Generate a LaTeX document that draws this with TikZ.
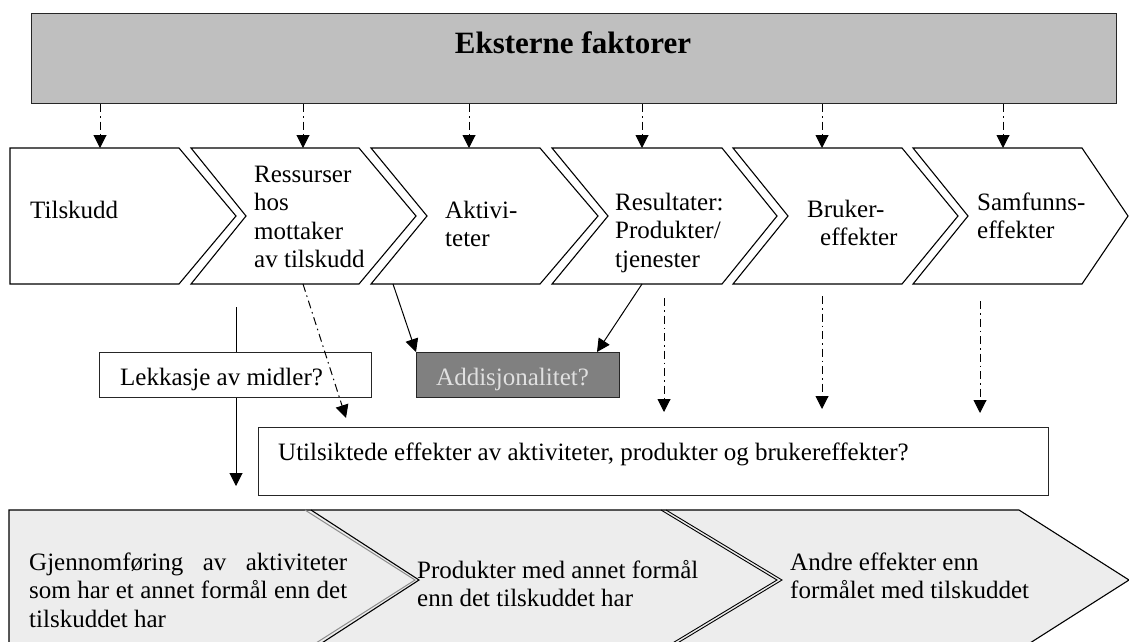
\documentclass[tikz,border=0pt]{standalone}
\usepackage{fontspec}
\setmainfont{Liberation Serif}
\usetikzlibrary{arrows.meta}
\newcommand{\mylines}[1]{\begin{tabular}[t]{@{}l@{}}#1\end{tabular}}
\begin{document}
\begin{tikzpicture}[x=1pt,y=-1pt,
  boxst/.style={draw=black!85, line width=1.2pt, inner sep=0pt, anchor=north west},
  chev/.style={draw=black, line width=1.1pt, fill=white, line join=miter},
  txt/.style={inner sep=0pt, anchor=base west, font=\fontsize{25}{28.5}\selectfont},
  arr/.style={line width=1pt, -{Triangle[width=13pt,length=13pt]}},
  dd/.style={arr, dash pattern=on 8pt off 4pt on 1.5pt off 4pt}]
\useasboundingbox (0,0) rectangle (1129,641);

% top bar
\node[boxst, fill=black!25, minimum width=1085pt, minimum height=90pt] (ext) at (31,13) {};
\node[inner sep=0pt, font=\fontsize{31}{34}\selectfont\bfseries] (exttxt) at (573,43) {Eksterne faktorer};

% chevrons top row
\draw[chev] (10,148) -- (179,148) -- (236,216) -- (179,284) -- (10,284) -- cycle;
\draw[chev] (191,148) -- (359,148) -- (416,216) -- (359,284) -- (191,284) -- (246,216) -- cycle;
\draw[chev] (371,148) -- (540,148) -- (598,216) -- (540,284) -- (371,284) -- (427,216) -- cycle;
\draw[chev] (552,148) -- (722,148) -- (777,216) -- (722,284) -- (552,284) -- (608,216) -- cycle;
\draw[chev] (733,148) -- (902,148) -- (958,216) -- (902,284) -- (733,284) -- (788,216) -- cycle;
\draw[chev] (913,148) -- (1082,148) -- (1128,216) -- (1082,284) -- (913,284) -- (968,216) -- cycle;

\coordinate (t1) at (100,148);
\coordinate (t2) at (303,148);
\coordinate (t3) at (469,148);
\coordinate (t4) at (642,148);
\coordinate (t5) at (822,148);
\coordinate (t6) at (1003,148);
\foreach \i in {1,...,6} {\draw[dd] (ext.south -| t\i) -- (t\i);}

\node[txt] (c1) at (30,218) {Tilskudd};
\node[txt] (c2) at (254,182) {\mylines{Ressurser\\hos\\mottaker\\av tilskudd}};
\node[txt] (c3) at (445,218) {\mylines{Aktivi-\\teter}};
\node[txt] (c4) at (615,210) {\mylines{Resultater:\\Produkter/\\tjenester}};
\node[txt] (c5) at (807,217) {\mylines{Bruker-\\\hspace*{13pt}effekter}};
\node[txt] (c6) at (977,210) {\mylines{Samfunns-\\effekter}};

% middle
\coordinate (tilsA) at (236,307);
\coordinate (tilsB) at (236,486);
\draw[arr] (tilsA) -- (tilsB);

\node[boxst, fill=white, minimum width=272pt, minimum height=45pt] (lek) at (99,352) {};
\node[txt] (lektxt) at (120,385) {Lekkasje av midler?};

\node[boxst, fill=black!50, minimum width=203pt, minimum height=45pt] (add) at (416,352) {};
\node[txt, text=white!88!black] (addtxt) at (436,385) {Addisjonalitet?};

\node[boxst, fill=white, minimum width=790pt, minimum height=68pt] (uti) at (258,427) {};
\node[txt] (utitxt) at (278,460) {Utilsiktede effekter av aktiviteter, produkter og brukereffekter?};

\coordinate (ressB) at (303,284);
\coordinate (ressE) at (346,418);
\draw[dd] (ressB) -- (ressE);

\coordinate (aktB) at (393,284);
\draw[arr] (aktB) -- (add.north west);
\coordinate (resB) at (642,284);
\coordinate (addR) at (597,352);
\draw[arr] (resB) -- (addR);

\coordinate (d1a) at (664,298); \coordinate (d1b) at (664,412);
\coordinate (d2a) at (822,296); \coordinate (d2b) at (822,409);
\coordinate (d3a) at (980,301); \coordinate (d3b) at (980,413);
\draw[dd] (d1a) -- (d1b);
\draw[dd] (d2a) -- (d2b);
\draw[dd] (d3a) -- (d3b);

% bottom row
\begin{scope}
\clip (0,0) rectangle (1129,641);
\fill[black!7] (9,510) -- (1019,510) -- (1129,580) -- (1019,650) -- (9,650) -- cycle;
\draw[line width=1.1pt, line join=miter] (9,660) -- (9,510) -- (1019,510) -- (1129,580) -- (1019,650);
\draw[black!45, line width=1pt] (305,510) -- (415,580) -- (305,650);
\draw[black, line width=1.1pt] (311,510) -- (419,580) -- (311,650);
\draw[line width=0.9pt] (661,510) -- (777,580) -- (661,650);
\draw[line width=0.9pt] (666,510) -- (782,580) -- (666,650);
\end{scope}

\node[txt] (b1) at (29,570) {\mylines{\makebox[318pt][s]{Gjennomføring av aktiviteter}\\\makebox[318pt][s]{som har et annet formål enn det}\\tilskuddet har}};
\node[txt] (b2) at (417,578) {\mylines{Produkter med annet formål\\enn det tilskuddet har}};
\node[txt] (b3) at (790,570) {\mylines{Andre effekter enn\\formålet med tilskuddet}};
\end{tikzpicture}
\end{document}
